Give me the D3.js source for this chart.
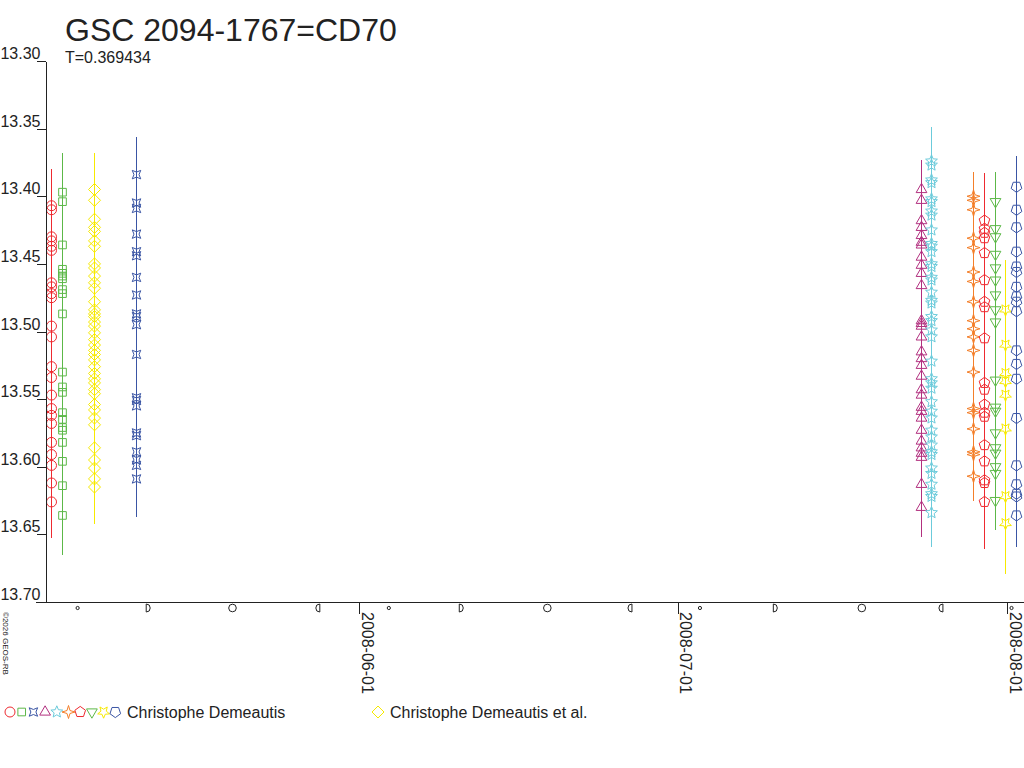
<!DOCTYPE html>
<html>
<head>
<meta charset="utf-8">
<script src="https://cdn.jsdelivr.net/npm/d3@7"></script>
<style>
    body { margin: 0; background: #fff; }
    text { font-family: Arial, "Liberation Sans", sans-serif; fill: #222; }
</style>
</head>
<body>
<svg id="chart" width="1024" height="768"></svg>
<script>
// observing nights (UT, middle of each run)
var nights = ["2008-05-03T00:30:00Z", "2008-05-04T02:00:00Z", "2008-05-07T01:00:00Z", "2008-05-11T00:00:00Z",
    "2008-07-23T21:00:00Z", "2008-07-24T21:00:00Z", "2008-07-28T20:00:00Z", "2008-07-29T20:00:00Z",
    "2008-07-30T21:00:00Z", "2008-07-31T19:30:00Z", "2008-08-01T19:40:00Z"];
var nightObserver = [0, 0, 1, 0, 0, 0, 0, 0, 0, 0, 0];
var nightError = [0.027, 0.029, 0.027, 0.028, 0.022, 0.025, 0.018, 0.035, 0.022, 0.037, 0.023];

// magnitudes per night
var magMay03 = [13.407, 13.410, 13.430, 13.433, 13.437, 13.440, 13.464, 13.467, 13.472, 13.475, 13.496, 13.504,
    13.526, 13.534, 13.547, 13.557, 13.562, 13.568, 13.582, 13.591, 13.599, 13.612, 13.626];
var magMay04 = [13.397, 13.404, 13.436, 13.454, 13.457, 13.459, 13.461, 13.469, 13.472, 13.487, 13.530, 13.541,
    13.545, 13.560, 13.565, 13.571, 13.573, 13.582, 13.596, 13.614, 13.636];
var magMay07 = [13.395, 13.403, 13.417, 13.423, 13.426, 13.433, 13.437, 13.450, 13.453, 13.459, 13.464, 13.468,
    13.478, 13.484, 13.487, 13.489, 13.493, 13.496, 13.501, 13.506, 13.510, 13.514, 13.517, 13.521, 13.526,
    13.531, 13.535, 13.538, 13.543, 13.546, 13.554, 13.558, 13.564, 13.569, 13.586, 13.595, 13.601, 13.609, 13.615];
var magMay11 = [13.384, 13.405, 13.409, 13.428, 13.441, 13.444, 13.460, 13.473, 13.487, 13.489, 13.495, 13.517,
    13.549, 13.551, 13.555, 13.575, 13.577, 13.589, 13.595, 13.599, 13.609];
var magJul23 = [13.395, 13.403, 13.418, 13.423, 13.429, 13.434, 13.436, 13.445, 13.451, 13.457, 13.466, 13.492,
    13.494, 13.496, 13.504, 13.515, 13.520, 13.525, 13.533, 13.543, 13.547, 13.556, 13.559, 13.564, 13.573,
    13.581, 13.586, 13.590, 13.593, 13.613, 13.630];
var magJul24 = [13.374, 13.377, 13.388, 13.390, 13.402, 13.404, 13.411, 13.414, 13.425, 13.435, 13.437, 13.441,
    13.450, 13.452, 13.460, 13.462, 13.471, 13.477, 13.479, 13.489, 13.492, 13.499, 13.504, 13.522, 13.535,
    13.538, 13.542, 13.552, 13.559, 13.564, 13.573, 13.578, 13.584, 13.589, 13.591, 13.601, 13.605, 13.613,
    13.620, 13.622, 13.634];
var magJul28 = [13.400, 13.403, 13.410, 13.431, 13.438, 13.456, 13.463, 13.478, 13.492, 13.498, 13.504, 13.514,
    13.530, 13.557, 13.560, 13.572, 13.589, 13.591, 13.607];
var magJul29 = [13.418, 13.424, 13.427, 13.431, 13.442, 13.462, 13.478, 13.482, 13.505, 13.538, 13.543, 13.554,
    13.560, 13.563, 13.584, 13.596, 13.610, 13.612, 13.626];
var magJul30 = [13.404, 13.424, 13.430, 13.443, 13.453, 13.462, 13.473, 13.484, 13.493, 13.536, 13.556, 13.559,
    13.575, 13.586, 13.590, 13.600, 13.605, 13.625];
var magJul31 = [13.484, 13.510, 13.531, 13.537, 13.547, 13.572, 13.622, 13.642];
var magAug01 = [13.393, 13.410, 13.423, 13.441, 13.452, 13.456, 13.467, 13.474, 13.478, 13.485, 13.514, 13.524,
    13.535, 13.564, 13.599, 13.613, 13.620, 13.622, 13.636];
var nightMags = [magMay03, magMay04, magMay07, magMay11, magJul23, magJul24, magJul28, magJul29, magJul30, magJul31, magAug01];

var observerNames = ["Christophe Demeautis", "Christophe Demeautis et al."];

// axis ticks
var magTicks = [13.30, 13.35, 13.40, 13.45, 13.50, 13.55, 13.60, 13.65, 13.70];
var monthTicks = ["2008-06-01", "2008-07-01", "2008-08-01"];

// moon phases 2008 (UT)
var moonNew = ["2008-05-05T12:18Z", "2008-06-03T19:23Z", "2008-07-03T02:19Z", "2008-08-01T10:13Z"];
var moonFirst = ["2008-05-12T03:47Z", "2008-06-10T15:04Z", "2008-07-10T04:35Z"];
var moonFull = ["2008-05-20T02:11Z", "2008-06-18T17:30Z", "2008-07-18T07:59Z"];
var moonLast = ["2008-05-28T02:57Z", "2008-06-26T12:10Z", "2008-07-25T18:42Z"];

// styles per night
var nightColor = ["#ee2a30", "#5cb848", "#f7ea00", "#3a55a4", "#b2307f", "#6ccbdb", "#f47f2a", "#ee2a30",
    "#5cb848", "#f7ea00", "#3a55a4"];
var nightShape = ["circle", "square", "diamond", "hourglass", "triangle", "star", "star4", "pentagon",
    "triangleDown", "starDown", "pentagonDown"];

var svg = d3.select("#chart");

var x = d3.scaleUtc()
    .domain([new Date(monthTicks[0]), new Date(monthTicks[2])])
    .range([359, 1007]);
var y = d3.scaleLinear()
    .domain([13.30, 13.70])
    .range([61, 602]);

//polygon / star around 0,0, first vertex at the top turned by rot
function poly(n, r, inner, rot) {
    var k = inner ? 2 * n : n, pts = [];
    for (var i = 0; i < k; i++) {
        var a = rot + i * Math.PI * 2 / k;
        var rr = (inner && i % 2) ? r * inner : r;
        pts.push([(rr * Math.sin(a)).toFixed(2), (-rr * Math.cos(a)).toFixed(2)]);
    }
    return "M" + pts.join("L") + "Z";
}
var shapes = {
    circle: d3.symbol().type(d3.symbolCircle).size(Math.PI * 25)(),
    square: poly(4, 5.4, 0, Math.PI / 4),
    diamond: poly(4, 6, 0, 0),
    hourglass: poly(4, 6, 0.42, Math.PI / 4),
    triangle: poly(3, 6.2, 0, 0),
    star: poly(5, 6.2, 0.45, 0),
    star4: poly(4, 6.5, 0.32, 0),
    pentagon: poly(5, 5.6, 0, 0),
    triangleDown: poly(3, 6.2, 0, Math.PI),
    starDown: poly(5, 6.2, 0.45, Math.PI),
    pentagonDown: poly(5, 5.6, 0, Math.PI)
};

// build point table
var points = [];
nights.forEach(function (n, i) {
    nightMags[i].forEach(function (m) {
        points.push({ date: new Date(n), mag: m, err: nightError[i], night: i });
    });
});

// error bars
svg.append("g")
    .selectAll("line")
    .data(points)
    .enter()
    .append("line")
    .attr("x1", function (d) { return Math.round(x(d.date)) + 0.5; })
    .attr("x2", function (d) { return Math.round(x(d.date)) + 0.5; })
    .attr("y1", function (d) { return y(d.mag - d.err); })
    .attr("y2", function (d) { return y(d.mag + d.err); })
    .attr("stroke", function (d) { return nightColor[d.night]; })
    .attr("stroke-width", 1.5)
    .attr("shape-rendering", "crispEdges");

// markers
svg.append("g")
    .selectAll("path")
    .data(points)
    .enter()
    .append("path")
    .attr("transform", function (d) {
        return "translate(" + (Math.round(x(d.date)) + 0.5) + "," + y(d.mag) + ")";
    })
    .attr("d", function (d) { return shapes[nightShape[d.night]]; })
    .attr("fill", "none")
    .attr("stroke", function (d) { return nightColor[d.night]; })
    .attr("stroke-width", 1);

// y axis
var yAxis = svg.append("g")
    .attr("transform", "translate(45.5,0)")
    .attr("color", "#222")
    .call(d3.axisLeft(y).tickValues(magTicks).tickSize(9).tickSizeOuter(0).tickFormat(d3.format(".2f")));
yAxis.selectAll("text")
    .attr("x", -5)
    .attr("dy", "-0.15em")
    .attr("font-size", 16)
    .attr("font-family", "Arial, 'Liberation Sans', sans-serif");
yAxis.selectAll("line, path").attr("shape-rendering", "crispEdges");

// x axis
svg.append("line")
    .attr("x1", 36).attr("x2", 1024)
    .attr("y1", 602.5).attr("y2", 602.5)
    .attr("stroke", "#222")
    .attr("shape-rendering", "crispEdges");
var xAxis = svg.append("g")
    .attr("transform", "translate(0,602)")
    .attr("color", "#222")
    .call(d3.axisBottom(x).tickValues(monthTicks.map(function (d) { return new Date(d); }))
        .tickSize(12).tickFormat(d3.utcFormat("%Y-%m-%d")));
xAxis.select(".domain").remove();
xAxis.selectAll("line").attr("shape-rendering", "crispEdges");
xAxis.selectAll("text")
    .attr("transform", "rotate(90)")
    .attr("x", 10)
    .attr("y", -2)
    .attr("dy", 0)
    .attr("text-anchor", "start")
    .attr("font-size", 16)
    .attr("font-family", "Arial, 'Liberation Sans', sans-serif");

// moon phases under the axis
var moon = svg.append("g")
    .attr("fill", "none")
    .attr("stroke", "#222")
    .attr("stroke-width", 1);
moon.selectAll(".new").data(moonNew).enter().append("circle")
    .attr("cx", function (d) { return x(new Date(d)); })
    .attr("cy", 608).attr("r", 1.6);
moon.selectAll(".full").data(moonFull).enter().append("circle")
    .attr("cx", function (d) { return x(new Date(d)); })
    .attr("cy", 608).attr("r", 3.8);
moon.selectAll(".first").data(moonFirst).enter().append("path")
    .attr("d", function (d) {
        var px = x(new Date(d)) - 2;
        return "M" + px + ",604L" + px + ",612A4,4 0 0,0 " + px + ",604";
    });
moon.selectAll(".last").data(moonLast).enter().append("path")
    .attr("d", function (d) {
        var px = x(new Date(d)) + 2;
        return "M" + px + ",604L" + px + ",612A4,4 0 0,1 " + px + ",604";
    });

// titles
svg.append("text")
    .attr("x", 65).attr("y", 41)
    .attr("font-size", 32)
    .text("GSC 2094-1767=CD70");
svg.append("text")
    .attr("x", 65).attr("y", 63)
    .attr("font-size", 16)
    .text("T=0.369434");
svg.append("text")
    .attr("transform", "translate(3,612) rotate(90)")
    .attr("font-size", 8)
    .text("\u00a92026 GEOS-RB");

// legend
var legend = svg.append("g");
var cdNights = nights.map(function (d, i) { return i; }).filter(function (i) { return nightObserver[i] === 0; });
legend.selectAll("path.cd")
    .data(cdNights)
    .enter()
    .append("path")
    .attr("transform", function (d, i) { return "translate(" + (10 + i * 11.7) + ",712)"; })
    .attr("d", function (d) { return shapes[nightShape[d]]; })
    .attr("fill", "none")
    .attr("stroke", function (d) { return nightColor[d]; });
legend.append("text")
    .attr("x", 127).attr("y", 718)
    .attr("font-size", 16)
    .text(observerNames[0]);
var alNight = nightObserver.indexOf(1);
legend.append("path")
    .attr("transform", "translate(378,712)")
    .attr("d", shapes[nightShape[alNight]])
    .attr("fill", "none")
    .attr("stroke", nightColor[alNight]);
legend.append("text")
    .attr("x", 390).attr("y", 718)
    .attr("font-size", 16)
    .text(observerNames[1]);
</script>
</body>
</html>
